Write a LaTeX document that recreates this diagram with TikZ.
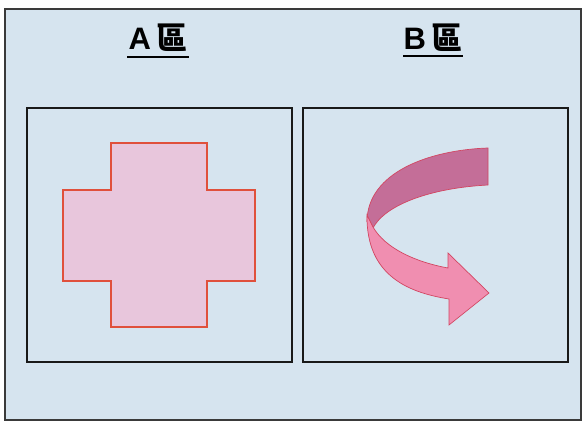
\documentclass[tikz,border=0pt]{standalone}
\usepackage{fontspec}
\setmainfont{Liberation Sans}
\newfontfamily\cjk{Noto Sans CJK TC}
\definecolor{bgblue}{HTML}{D6E4EF}
\definecolor{framegray}{HTML}{3A3A3A}
\definecolor{crossfill}{HTML}{E8C6DC}
\definecolor{crossline}{HTML}{E0503C}
\definecolor{backfill}{HTML}{C46E98}
\definecolor{frontfill}{HTML}{F08EB0}
\definecolor{arrowline}{HTML}{D24662}
\tikzset{
  panel/.style={draw=black!90, line width=1.6pt},
  title/.style={font=\fontsize{31}{34}\selectfont\bfseries, inner sep=0pt, anchor=center},
  crossshape/.style={fill=crossfill, draw=crossline, line width=1.3pt},
  backband/.style={fill=backfill, draw=arrowline, line width=0.7pt},
  frontband/.style={fill=frontfill, draw=arrowline, line width=0.7pt, line join=miter},
}
\begin{document}
\begin{tikzpicture}[x=1pt,y=-1pt]
\useasboundingbox (0,0) rectangle (582,422);
\fill[white] (0,0) rectangle (582,422);
\fill[bgblue] (5,9) rectangle (581,420);
\draw[framegray, line width=2pt] (581,420) -- (5,420) -- (5,9) -- (581,9) -- cycle;
% titles
\node[title] (ta) at (158,38) {A\,{\cjk\bfseries 區}};
\draw[line width=1.8pt] (127,57) -- (189,57);
\node[title] (tb) at (433,38) {B\,{\cjk\bfseries 區}};
\draw[line width=1.8pt] (403,56) -- (463,56);
% panels
\node[panel, minimum width=265pt, minimum height=254pt, inner sep=0pt] (pa) at (159.5,235) {};
\node[panel, minimum width=265pt, minimum height=254pt, inner sep=0pt] (pb) at (435.5,235) {};
% cross
\draw[crossshape] (111,143) -- (207,143) -- (207,190) -- (255,190) -- (255,281) -- (207,281)
  -- (207,327) -- (111,327) -- (111,281) -- (63,281) -- (63,190) -- (111,190) -- cycle;
% curved arrow: back band
\draw[backband] (488,148) .. controls (430,150) and (367,172) .. (367,222)
  -- (373,228) .. controls (385,205) and (430,188) .. (488,185) -- cycle;
% front band with head
\draw[frontband] (367,215) .. controls (366,278) and (412,293) .. (449,299)
  -- (449,325) -- (489,293) -- (448,253) -- (448,268)
  .. controls (415,262) and (385,248) .. (373,227) -- cycle;
\end{tikzpicture}
\end{document}
